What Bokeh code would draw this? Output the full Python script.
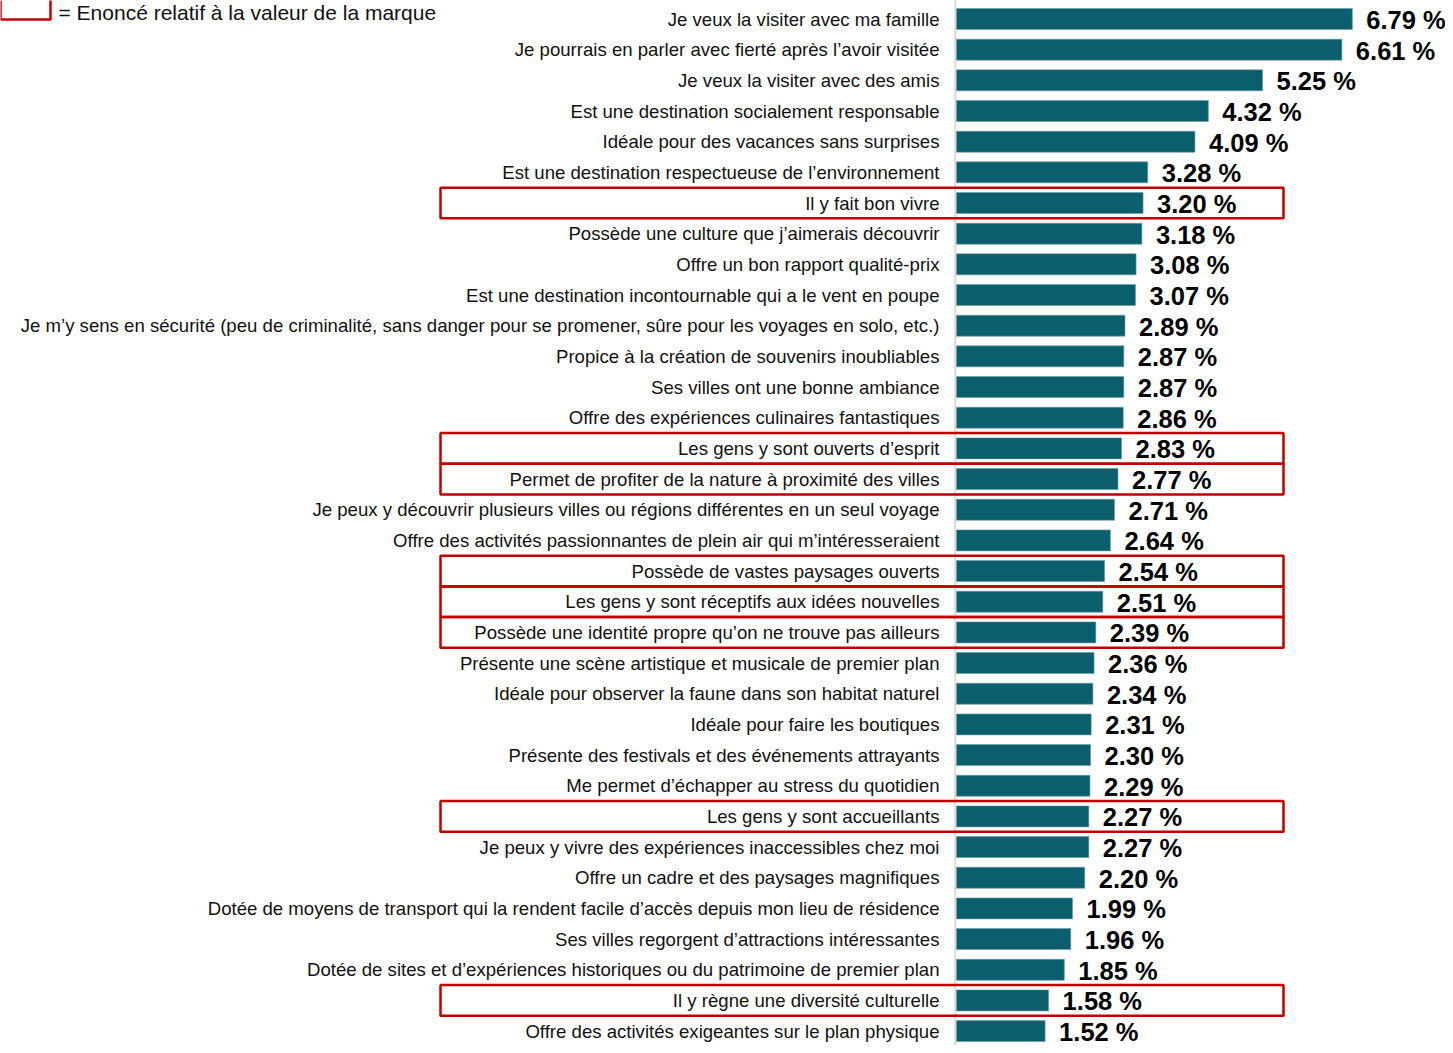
from bokeh.plotting import figure
from bokeh.models import ColumnDataSource, Range1d
from bokeh.core.properties import value
from bokeh.embed import file_html
from bokeh.resources import INLINE

categories = [
    "Je veux la visiter avec ma famille",
    "Je pourrais en parler avec fierté après l’avoir visitée",
    "Je veux la visiter avec des amis",
    "Est une destination socialement responsable",
    "Idéale pour des vacances sans surprises",
    "Est une destination respectueuse de l’environnement",
    "Il y fait bon vivre",
    "Possède une culture que j’aimerais découvrir",
    "Offre un bon rapport qualité-prix",
    "Est une destination incontournable qui a le vent en poupe",
    "Je m’y sens en sécurité (peu de criminalité, sans danger pour se promener, sûre pour les voyages en solo, etc.)",
    "Propice à la création de souvenirs inoubliables",
    "Ses villes ont une bonne ambiance",
    "Offre des expériences culinaires fantastiques",
    "Les gens y sont ouverts d’esprit",
    "Permet de profiter de la nature à proximité des villes",
    "Je peux y découvrir plusieurs villes ou régions différentes en un seul voyage",
    "Offre des activités passionnantes de plein air qui m’intéresseraient",
    "Possède de vastes paysages ouverts",
    "Les gens y sont réceptifs aux idées nouvelles",
    "Possède une identité propre qu’on ne trouve pas ailleurs",
    "Présente une scène artistique et musicale de premier plan",
    "Idéale pour observer la faune dans son habitat naturel",
    "Idéale pour faire les boutiques",
    "Présente des festivals et des événements attrayants",
    "Me permet d’échapper au stress du quotidien",
    "Les gens y sont accueillants",
    "Je peux y vivre des expériences inaccessibles chez moi",
    "Offre un cadre et des paysages magnifiques",
    "Dotée de moyens de transport qui la rendent facile d’accès depuis mon lieu de résidence",
    "Ses villes regorgent d’attractions intéressantes",
    "Dotée de sites et d’expériences historiques ou du patrimoine de premier plan",
    "Il y règne une diversité culturelle",
    "Offre des activités exigeantes sur le plan physique",
]
values = [6.79, 6.61, 5.25, 4.32, 4.09, 3.28, 3.20, 3.18, 3.08, 3.07,
          2.89, 2.87, 2.87, 2.86, 2.83, 2.77, 2.71, 2.64, 2.54, 2.51,
          2.39, 2.36, 2.34, 2.31, 2.30, 2.29, 2.27, 2.27, 2.20, 1.99,
          1.96, 1.85, 1.58, 1.52]
brand_value = [False, False, False, False, False, False, True, False, False, False,
               False, False, False, False, True, True, False, False, True, True,
               True, False, False, False, False, False, True, False, False, False,
               False, False, True, False]
legend_text = "= Enoncé relatif à la valeur de la marque"

W, H = 1445, 1045
PX = 58.3            # pixels per unit
ZERO = 956           # frame px of zero
ROW = 30.67          # pixels per row
ROW0 = 18.5          # frame px of first row centre

idx = list(range(len(categories)))
src = ColumnDataSource(dict(
    y=idx, v=values, cat=categories,
    lab=[f"{v:.2f} %" for v in values],
    lx=[v + 14 / PX for v in values],
))

p = figure(width=W, height=H, output_backend="svg", toolbar_location=None,
           x_range=Range1d(-ZERO / PX, (W - ZERO) / PX),
           y_range=Range1d((H - ROW0) / ROW, -ROW0 / ROW),
           x_axis_type=None, y_axis_type=None, min_border=0)
p.outline_line_color = None
p.xgrid.visible = False
p.ygrid.visible = False
p.background_fill_color = "white"
p.border_fill_color = "white"

# axis line
p.segment(x0=[-1.2 / PX], x1=[-1.2 / PX], y0=[-1.0], y1=[len(values) + 1],
          line_color="#D9D9D9", line_width=2)

p.hbar(y="y", left=0, right="v", height=21 / ROW, source=src,
       fill_color="#0B5E6B", line_color="#6F9AA3", line_width=0.6)

p.text(x=-17 / PX, y="y", text="cat", source=src, text_align="right",
       text_baseline="middle", text_font=value("Liberation Sans"),
       text_font_size="18.6px", text_color="#111111")

p.text(x="lx", y="y", text="lab", source=src, text_align="left",
       text_baseline="middle", text_font=value("Liberation Sans"),
       text_font_size="25.5px", text_font_style="bold", text_color="#000000",
       y_offset=1)

# red boxes around brand-value statements
hy = [i for i, f in zip(idx, brand_value) if f]
p.quad(left=(440 - ZERO) / PX, right=(1283 - ZERO) / PX,
       top=[i - 0.5 for i in hy], bottom=[i + 0.5 for i in hy],
       fill_color=None, line_color="#C00000", line_width=2.5)

# legend (top-left)
p.quad(left=[(0 - ZERO) / PX], right=[(50 - ZERO) / PX], top=[-2],
       bottom=[(19 - ROW0) / ROW],
       fill_color=None, line_color="#C00000", line_width=2.5)
p.text(x=[(58 - ZERO) / PX], y=[(12 - ROW0) / ROW], text=[legend_text],
       text_align="left", text_baseline="middle",
       text_font=value("Liberation Sans"), text_font_size="21px",
       text_color="#111111")

open("out.html", "w").write(file_html(p, INLINE))
